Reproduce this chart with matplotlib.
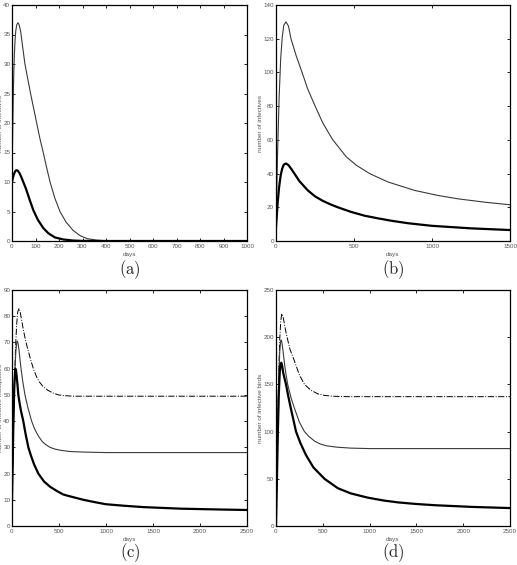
import matplotlib
matplotlib.use("Agg")
import matplotlib.pyplot as plt

plt.rcParams['font.family'] = ['Liberation Sans', 'DejaVu Sans']
plt.rcParams['mathtext.fontset'] = 'cm'

# ---- Panel (a) ----
a_thin_x = [0, 2, 4, 6, 8, 10, 13, 16, 20, 25, 30, 37, 45, 55, 67, 79, 92, 105, 118, 133, 147, 162, 182, 204, 230, 260, 290, 320, 360, 400, 500, 1000]
a_thin_y = [10, 16, 21, 25.5, 29, 31.5, 34, 35.6, 36.6, 37, 36.7, 35.5, 33, 30, 27.5, 25, 22.5, 20, 17.5, 15, 12.5, 10, 7.3, 5, 3.2, 1.8, 0.9, 0.4, 0.15, 0.05, 0, 0]
a_thick_x = [0, 5, 10, 15, 20, 25, 32, 40, 48, 60, 75, 91, 110, 133, 155, 183, 220, 260, 300, 400, 1000]
a_thick_y = [10, 10.9, 11.5, 11.9, 12, 11.9, 11.5, 10.8, 10, 8.8, 7, 5.2, 3.6, 2.2, 1.3, 0.6, 0.25, 0.08, 0.02, 0, 0]

# ---- Panel (b) ----
b_thin_x = [0, 5, 10, 20, 30, 40, 50, 64, 80, 96, 129, 167, 204, 251, 300, 364, 450, 514, 600, 718, 889, 1039, 1168, 1340, 1500]
b_thin_y = [8, 30, 52, 85, 108, 121, 128, 130, 127.5, 120, 110, 100, 90, 80, 70, 60, 50, 45, 40, 35, 30, 27, 25, 23, 21.5]
b_thick_x = [0, 5, 10, 20, 30, 40, 50, 64, 80, 100, 118, 150, 204, 250, 300, 350, 396, 480, 568, 650, 740, 850, 1000, 1250, 1500]
b_thick_y = [8, 15, 22, 32, 39, 43, 45.3, 46, 45, 42.5, 40, 35.5, 30, 26.5, 23.8, 21.7, 20, 17.3, 15, 13.5, 12, 10.5, 9, 7.5, 6.5]

# ---- Panel (c) ----
c_dash_x = [0, 10, 20, 30, 40, 50, 60, 74, 85, 100, 120, 140, 160, 190, 227, 260, 290, 330, 380, 430, 493, 560, 650, 2500]
c_dash_y = [10, 30, 47, 60, 70, 77, 81.5, 83, 82, 79, 75, 71.5, 68.5, 64.5, 60, 57, 55, 53.2, 51.8, 50.8, 50, 49.7, 49.5, 49.5]
c_thin_x = [0, 10, 20, 30, 40, 50, 57, 65, 75, 85, 96, 115, 138, 170, 209, 235, 262, 290, 320, 360, 404, 460, 530, 620, 750, 1000, 2500]
c_thin_y = [10, 28, 45, 58, 66, 70, 70.5, 69.5, 67, 63.5, 60, 55, 50, 45, 40, 37.5, 35.5, 33.8, 32.3, 31, 30, 29.3, 28.8, 28.4, 28.2, 28, 28]
c_thick_x = [0, 8, 15, 25, 35, 42, 50, 58, 67, 80, 95, 120, 145, 174, 200, 235, 280, 340, 404, 470, 546, 650, 759, 880, 1000, 1200, 1400, 1800, 2200, 2500]
c_thick_y = [10, 25, 40, 54, 60, 59.5, 57, 54, 50, 47, 44, 40, 35, 30, 27, 23.5, 20, 17, 15, 13.5, 12, 11, 10, 9.1, 8.3, 7.7, 7.2, 6.6, 6.3, 6.1]

# ---- Panel (d) ----
d_dash_x = [0, 10, 20, 30, 40, 50, 61, 75, 90, 105, 118, 150, 196, 250, 304, 370, 446, 520, 600, 750, 2500]
d_dash_y = [0, 60, 120, 165, 198, 216, 225, 222, 214, 206, 200, 187, 175, 160, 150, 144, 140, 138.3, 137.5, 137, 137]
d_thin_x = [0, 10, 20, 30, 40, 50, 55, 62, 72, 85, 100, 125, 160, 196, 250, 304, 350, 411, 470, 536, 650, 800, 1000, 2500]
d_thin_y = [0, 55, 110, 155, 185, 196, 197, 195, 188, 177, 165, 150, 136, 125, 110, 100, 95, 90, 87, 85, 83.5, 82.5, 82, 82]
d_thick_x = [0, 10, 20, 30, 40, 48, 56, 65, 78, 92, 107, 130, 160, 214, 260, 321, 400, 518, 661, 800, 982, 1150, 1304, 1500, 1700, 2100, 2500]
d_thick_y = [0, 50, 100, 140, 163, 171, 173, 170, 162, 156, 150, 138, 124, 100, 88, 75, 62, 50, 40, 34.5, 30, 27, 25, 23.3, 22, 20.2, 19]

a_xticks = [0, 100, 200, 300, 400, 500, 600, 700, 800, 900, 1000]
a_yticks = [0, 5, 10, 15, 20, 25, 30, 35, 40]
b_xticks = [0, 500, 1000, 1500]
b_yticks = [0, 20, 40, 60, 80, 100, 120, 140]
c_xticks = [0, 500, 1000, 1500, 2000, 2500]
c_yticks = [0, 10, 20, 30, 40, 50, 60, 70, 80, 90]
d_xticks = [0, 500, 1000, 1500, 2000, 2500]
d_yticks = [0, 50, 100, 150, 200, 250]

W, H = 517, 565
fig = plt.figure(figsize=(W / 100, H / 100), dpi=100)

def make_ax(l, t, r, b):
    return fig.add_axes([l / W, 1 - b / H, (r - l) / W, (b - t) / H])

thin_c = '#3a3a3a'
tick_c = '#555555'

def style(ax, xticks, yticks, xlim, ylim, ylabel, ylab_x, ypad=2):
    ax.set_xlim(*xlim)
    ax.set_ylim(*ylim)
    ax.set_xticks(xticks)
    ax.set_yticks(yticks)
    ax.tick_params(direction='in', length=2.5, width=0.6, labelsize=4.5,
                   labelcolor=tick_c, top=True, right=True, pad=2)
    ax.tick_params(axis='y', pad=ypad)
    for s in ax.spines.values():
        s.set_linewidth(0.9)
    ax.set_xlabel('days', fontsize=4.6, color=tick_c, labelpad=2)
    ax.set_ylabel(ylabel, fontsize=4.6, color=tick_c, va='center')
    ax.yaxis.set_label_coords(ylab_x, 0.5)

ax_a = make_ax(12, 5, 247, 241)
ax_a.plot(a_thin_x, a_thin_y, color=thin_c, lw=0.8)
ax_a.plot(a_thick_x, a_thick_y, color='black', lw=1.6)
style(ax_a, a_xticks, a_yticks, (0, 1000), (0, 40), 'number of infectives', -0.047, ypad=1.2)

ax_b = make_ax(276, 5, 510, 241)
ax_b.plot(b_thin_x, b_thin_y, color=thin_c, lw=0.8)
ax_b.plot(b_thick_x, b_thick_y, color='black', lw=1.6)
style(ax_b, b_xticks, b_yticks, (0, 1500), (0, 140), 'number of infectives', -0.068, ypad=1.5)

ax_c = make_ax(12, 290, 247, 526)
ax_c.plot(c_dash_x, c_dash_y, color='black', lw=0.7, ls='-.')
ax_c.plot(c_thin_x, c_thin_y, color=thin_c, lw=0.8)
ax_c.plot(c_thick_x, c_thick_y, color='black', lw=1.6)
style(ax_c, c_xticks, c_yticks, (0, 2500), (0, 90), 'number of infective mosquitoes', -0.047, ypad=1.2)

ax_d = make_ax(276, 290, 510, 526)
ax_d.plot(d_dash_x, d_dash_y, color='black', lw=0.7, ls='-.')
ax_d.plot(d_thin_x, d_thin_y, color=thin_c, lw=0.8)
ax_d.plot(d_thick_x, d_thick_y, color='black', lw=1.6)
style(ax_d, d_xticks, d_yticks, (0, 2500), (0, 250), 'number of infective birds', -0.068, ypad=1.5)

for lab, x, y in [('a', 130, 270), ('b', 393, 270), ('c', 130, 553), ('d', 393, 553)]:
    fig.text(x / W, 1 - y / H, r'$(\mathrm{%s})$' % lab, fontsize=12,
             ha='center', va='center', color='#222222')

fig.savefig('out.png', dpi=100)
